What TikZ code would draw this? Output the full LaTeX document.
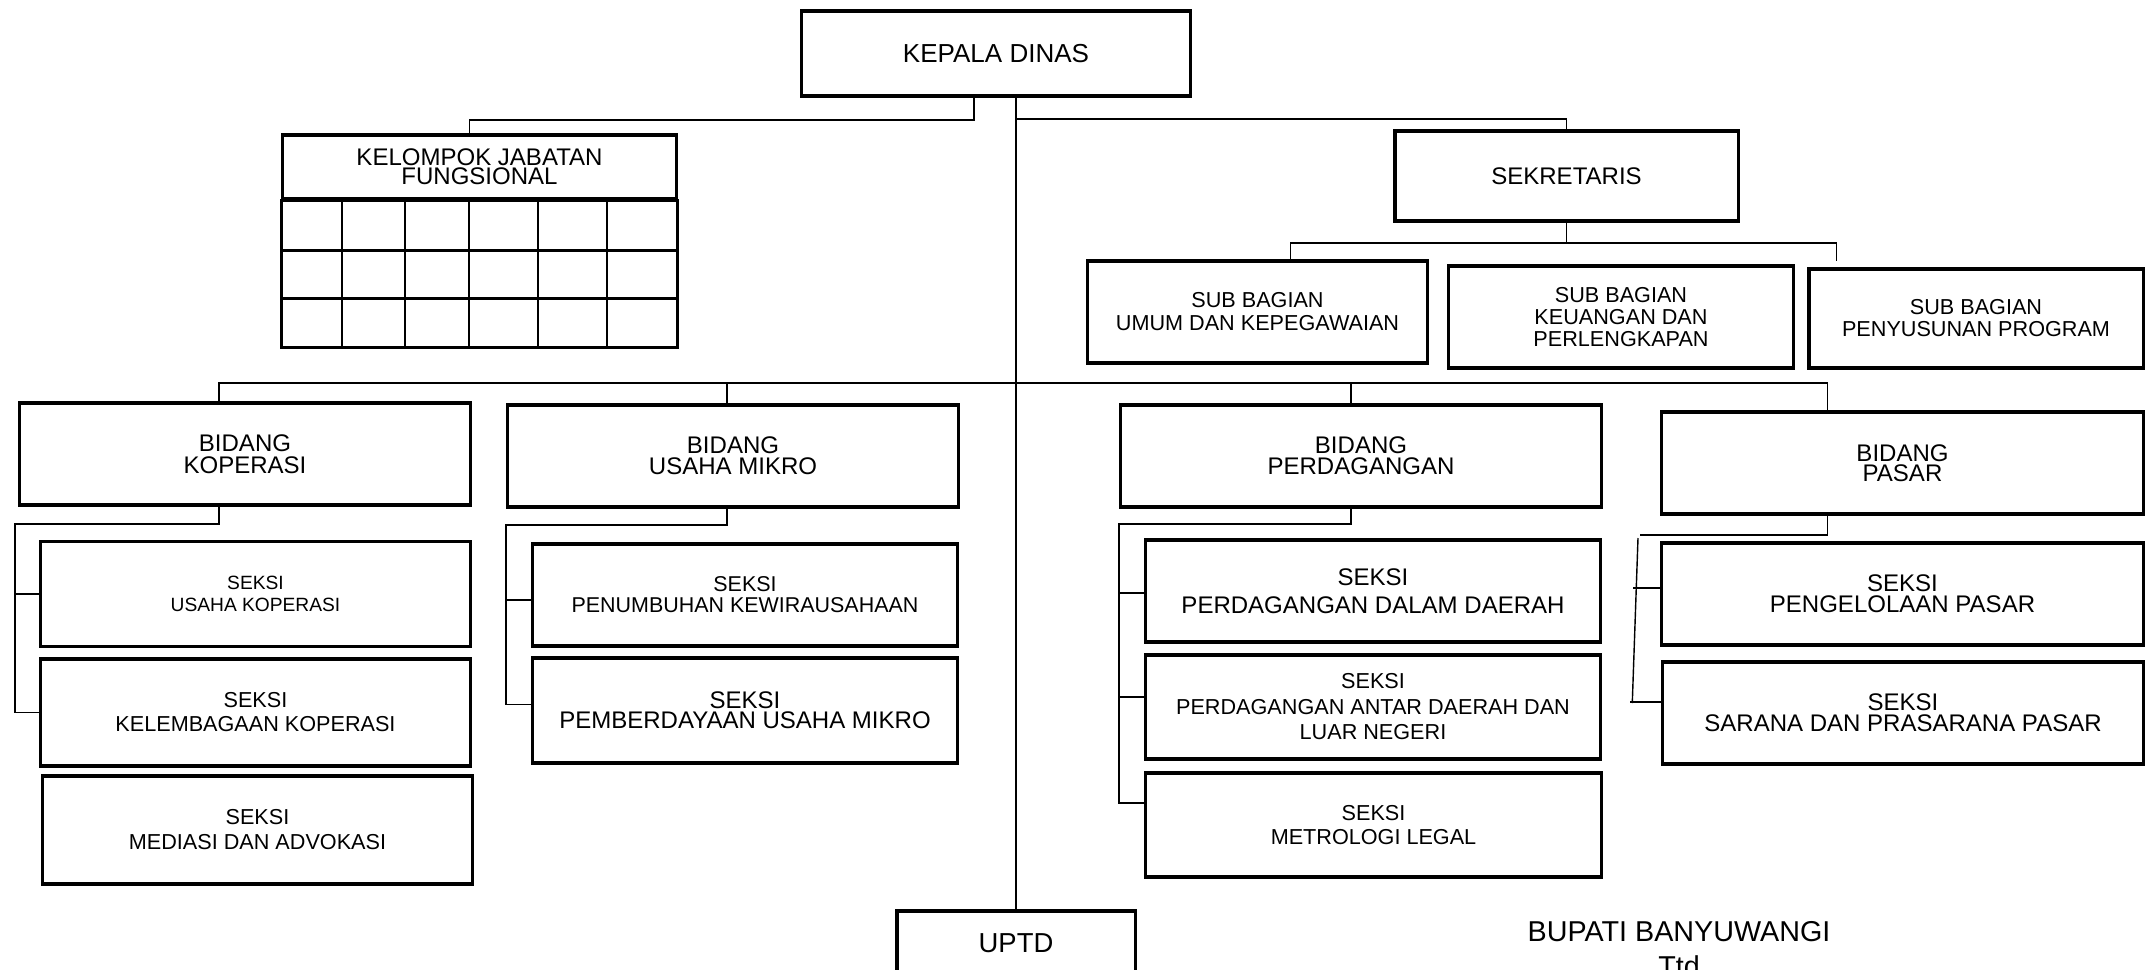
\documentclass[tikz,border=0pt]{standalone}
\usepackage{fontspec}
\setmainfont{Liberation Sans}
\usepackage{tikz}
\usetikzlibrary{calc}

\begin{document}
\begin{tikzpicture}[x=0.01cm, y=-0.01cm]
        % Setup the styles for the boxes and lines
        \tikzset{unit/.style={draw, line width=0.9pt, inner sep=0pt, align=center},
                 txt/.style 2 args={font=\fontsize{#1pt}{#2pt}\selectfont},
                 link/.style={line width=0.55pt},
                 thinlink/.style={line width=0.4pt}}

        \path[use as bounding box, fill=white] (0,0) rectangle (2145,969);

        % Draw the top boxes
        \node[unit, txt={7.4}{7.4}, minimum width=3.88cm, minimum height=0.85cm] at (996, 53.5) (kadis) {KEPALA DINAS};
        \node[unit, txt={6.83}{5.41}, minimum width=3.93cm, minimum height=0.64cm] at (479.5, 167) (jf) {KELOMPOK JABATAN\\FUNGSIONAL};
        \node[unit, txt={6.83}{6.83}, minimum width=3.43cm, minimum height=0.90cm] at (1566.5, 176) (sekr) {SEKRETARIS};

        % Grid under the fungsional box
        \draw[unit] (jf.south west) rectangle ($(jf.south east)+(0,147)$);
        \foreach \y in {50,98}
            \draw[line width=0.8pt] ($(jf.south west)+(0,\y)$) -- ($(jf.south east)+(0,\y)$);
        \foreach \x in {61,124,188,257,326}
            \draw[line width=0.5pt] ($(jf.south west)+(\x,0)$) -- ($(jf.south west)+(\x,147)$);

        % Sub bagian
        \node[unit, txt={6.15}{6.54}, minimum width=3.39cm, minimum height=1.02cm] at (1257.5, 312) (sub1) {SUB BAGIAN\\UMUM DAN KEPEGAWAIAN};
        \node[unit, txt={6.15}{6.26}, minimum width=3.44cm, minimum height=1.02cm] at (1621, 317)   (sub2) {SUB BAGIAN\\KEUANGAN DAN\\PERLENGKAPAN};
        \node[unit, txt={6.15}{6.26}, minimum width=3.34cm, minimum height=0.99cm] at (1976, 318.5) (sub3) {SUB BAGIAN\\PENYUSUNAN PROGRAM};

        % Bidang
        \node[unit, txt={6.83}{6.26}, minimum width=4.50cm, minimum height=1.02cm] at (245, 454)    (kop)   {BIDANG\\KOPERASI};
        \node[unit, txt={6.83}{5.98}, minimum width=4.50cm, minimum height=1.02cm] at (733, 456)    (um)    {BIDANG\\USAHA MIKRO};
        \node[unit, txt={6.83}{5.98}, minimum width=4.80cm, minimum height=1.02cm] at (1361, 456)   (perd)  {BIDANG\\PERDAGANGAN};
        \node[unit, txt={6.83}{5.83}, minimum width=4.81cm, minimum height=1.02cm] at (1902.5, 463) (pasar) {BIDANG\\PASAR};

        % Seksi
        \node[unit, txt={5.46}{6.26}, minimum width=4.29cm, minimum height=1.045cm] at (255.5, 594)  (s_uk) {SEKSI\\USAHA KOPERASI};
        \node[unit, txt={6.15}{6.83}, minimum width=4.29cm, minimum height=1.07cm]  at (255.5, 712.5) (s_kk) {SEKSI\\KELEMBAGAAN KOPERASI};
        \node[unit, txt={6.15}{7.11}, minimum width=4.29cm, minimum height=1.08cm]  at (257.5, 830)  (s_ma) {SEKSI\\MEDIASI DAN ADVOKASI};
        \node[unit, txt={6.10}{5.98}, minimum width=4.24cm, minimum height=1.02cm]  at (745, 595)    (s_pk) {SEKSI\\PENUMBUHAN KEWIRAUSAHAAN};
        \node[unit, txt={6.83}{5.69}, minimum width=4.24cm, minimum height=1.05cm]  at (745, 710.5)  (s_pu) {SEKSI\\PEMBERDAYAAN USAHA MIKRO};
        \node[unit, txt={6.83}{7.97}, minimum width=4.54cm, minimum height=1.02cm]  at (1373, 591)   (s_pd) {SEKSI\\PERDAGANGAN DALAM DAERAH};
        \node[unit, txt={6.15}{7.26}, minimum width=4.54cm, minimum height=1.04cm]  at (1373, 707)   (s_pa) {SEKSI\\PERDAGANGAN ANTAR DAERAH DAN\\LUAR NEGERI};
        \node[unit, txt={6.15}{6.83}, minimum width=4.55cm, minimum height=1.04cm]  at (1373.5, 825) (s_ml) {SEKSI\\METROLOGI LEGAL};
        \node[unit, txt={6.83}{5.98}, minimum width=4.81cm, minimum height=1.02cm]  at (1902.5, 594) (s_pp) {SEKSI\\PENGELOLAAN PASAR};
        \node[unit, txt={6.83}{5.98}, minimum width=4.80cm, minimum height=1.02cm]  at (1903, 713)   (s_sp) {SEKSI\\SARANA DAN PRASARANA PASAR};

        % Bottom
        \node[unit, txt={7.8}{7.8}, minimum width=2.38cm, minimum height=0.64cm] at (1016, 943) (uptd) {UPTD};
        \node[txt={8.17}{8.17}, inner sep=0pt] at (1679, 932) (bupati) {BUPATI BANYUWANGI};
        \node[txt={8.17}{8.17}, inner sep=0pt, anchor=base] at (1679, 976) (ttd) {Ttd};

        % Connect kepala dinas
        \draw[thinlink] ($(kadis.south)+(20,0)$) -- (uptd.north);
        \draw[link] ($(kadis.south)+(-22,0)$) -- ++(0,22) -| ($(jf.north)+(-10,0)$);
        \draw[link] ($(kadis.south)+(20,21)$) -| (sekr.north);

        % Sekretaris to sub bagian
        \draw[link] (sekr.south) -- ++(0,20) coordinate (sekbar);
        \draw[link] ($(sub1.north)+(33,0)$) |- (sekbar) -- ++(270,0) -- ++(0,18);

        % Bidang bar
        \draw[link] ($(kop.north)+(-26,0)$) |- ($(pasar.north)+(-75,-27)$) -- ($(pasar.north)+(-75,0)$);
        \draw[thinlink] ($(um.north)+(-6,0)$) -- ++(0,-20);
        \draw[thinlink] ($(perd.north)+(-10,0)$) -- ++(0,-20);

        % Koperasi
        \draw[link] ($(kop.south)+(-26,0)$) -- ++(0,17) -| ($(s_kk.west)+(-24,0)$) -- (s_kk.west);
        \draw[link] ($(s_uk.west)+(-24,0)$) -- (s_uk.west);

        % Usaha mikro
        \draw[link] ($(um.south)+(-6,0)$) -- ++(0,16) -| ($(s_pu.west)+(-25,-6)$) -- ($(s_pu.west)+(0,-6)$);
        \draw[link] ($(s_pk.west)+(-25,5)$) -- ($(s_pk.west)+(0,5)$);

        % Perdagangan
        \draw[link] ($(perd.south)+(-10,0)$) -- ++(0,15) -| ($(s_ml.west)+(-25,-22)$) -- ($(s_ml.west)+(0,-22)$);
        \draw[link] ($(s_pa.west)+(-25,-10)$) -- ($(s_pa.west)+(0,-10)$);
        \draw[link] ($(s_pd.west)+(-25,2)$) -- ($(s_pd.west)+(0,2)$);

        % Pasar
        \draw[link] ($(pasar.south)+(-75,0)$) -- ++(0,19) -- ++(-188,0);
        \coordinate (pasvert) at (1638, 538);
        \draw[thinlink] (pasvert) -- ($(s_sp.west)+(-29,-10)$);
        \draw[link] ($(s_pp.west)+(-27,-6)$) -- ($(s_pp.west)+(0,-6)$);
        \draw[link] ($(s_sp.west)+(-31,-11)$) -- ($(s_sp.west)+(0,-11)$);
\end{tikzpicture}
\end{document}
